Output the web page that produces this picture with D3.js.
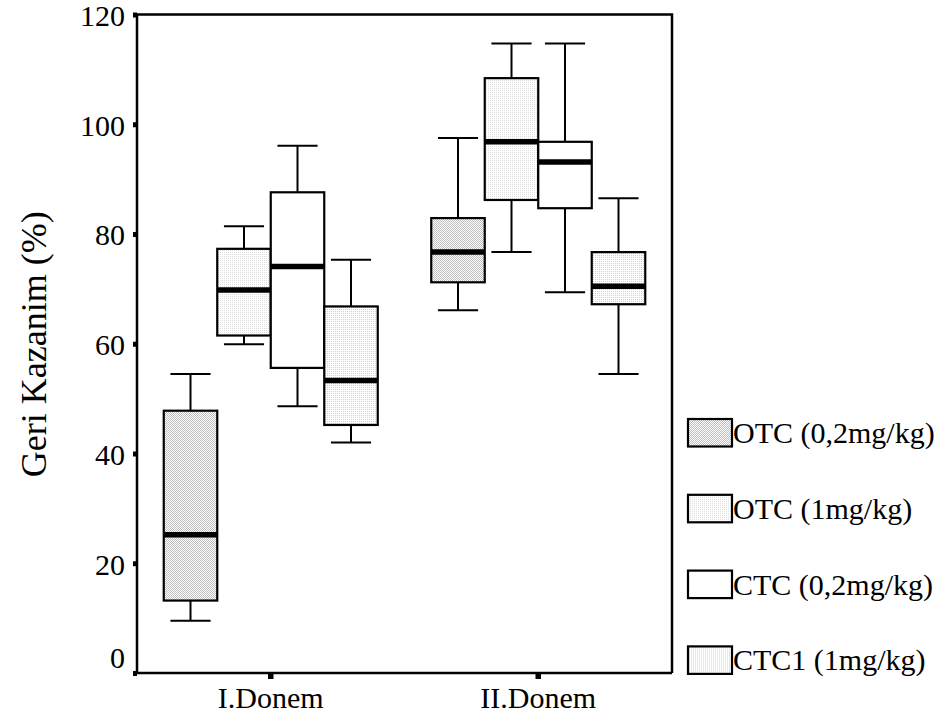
<!DOCTYPE html>
<html>
<head>
<meta charset="utf-8">
<script src="https://cdn.jsdelivr.net/npm/d3@7"></script>
<style>
  html, body { margin: 0; padding: 0; background: #fff; }
  svg { display: block; }
  text { font-family: "Liberation Serif", "Times New Roman", serif; fill: #000; }
</style>
</head>
<body>
<svg id="chart" width="946" height="719"></svg>
<script>
// Periods on the x axis
const categories = ["I.Donem", "II.Donem"];
// Treatment groups (one box per group in each period)
const seriesNames = ["OTC (0,2mg/kg)", "OTC (1mg/kg)", "CTC (0,2mg/kg)", "CTC1 (1mg/kg)"];
// Box statistics per period: [min, Q1, median, Q3, max]
const otc02 = [[9.5, 13.2, 25.2, 47.8, 54.5], [66.1, 71.2, 76.7, 82.9, 97.5]];
const otc1  = [[59.9, 61.5, 69.8, 77.3, 81.4], [76.7, 86.2, 96.8, 108.4, 114.7]];
const ctc02 = [[48.6, 55.6, 74.1, 87.6, 96.1], [69.4, 84.7, 93.1, 96.8, 114.7]];
const ctc1  = [[42.0, 45.2, 53.3, 66.8, 75.3], [54.5, 67.2, 70.5, 76.7, 86.5]];
const yTicks = [0, 20, 40, 60, 80, 100, 120];
const yTitle = "Geri Kazanim (%)";

const seriesValues = [otc02, otc1, ctc02, ctc1];
const fills = ["url(#pDark)", "url(#pLight)", "#ffffff", "url(#pDot)"];

const svg = d3.select("#chart");

// Dither fills for the shaded boxes
const defs = svg.append("defs");
function dither(id, cells, color) {
  const p = defs.append("pattern").attr("id", id)
    .attr("width", 2).attr("height", 2).attr("patternUnits", "userSpaceOnUse");
  p.append("rect").attr("width", 2).attr("height", 2).attr("fill", "#fff")
    .attr("shape-rendering", "crispEdges");
  cells.forEach(([cx, cy]) => p.append("rect").attr("x", cx).attr("y", cy)
    .attr("width", 1).attr("height", 1).attr("fill", color)
    .attr("shape-rendering", "crispEdges"));
}
dither("pDark", [[0, 0], [1, 1]], "#bdbdbd");
dither("pLight", [[0, 0]], "#dcdcdc");
dither("pDot", [[1, 1]], "#cfcfcf");

const plotL = 137, plotR = 672, plotT = 14.5, plotB = 673;

const y = d3.scaleLinear().domain([0, 120]).range([plotB, plotT]);
const x = d3.scaleBand().domain(categories).range([plotL, plotR]).padding(0);
const inner = d3.scaleBand().domain(seriesNames).range([0, x.bandwidth()])
  .paddingInner(0).paddingOuter(0.5);

// Plot frame (top and right edges)
svg.append("path")
  .attr("d", `M${plotL},${plotT}H${plotR}V${plotB}`)
  .attr("fill", "none").attr("stroke", "#000").attr("stroke-width", 2.5);

// Y axis
const yAxis = svg.append("g").attr("transform", `translate(${plotL},0)`)
  .call(d3.axisLeft(y).tickValues(yTicks).tickSize(4).tickPadding(8).tickFormat(d3.format("d")));
yAxis.select(".domain").attr("stroke", "#000").attr("stroke-width", 2.5)
  .attr("d", `M0,${plotB}V${plotT}`);
yAxis.selectAll(".tick line").attr("stroke", "#000").attr("stroke-width", 5);
yAxis.selectAll(".tick text").style("font-size", "30px").attr("dy", "0.36em");
yAxis.selectAll(".tick").filter(d => d === 0).select("text").attr("dy", "-0.18em");

// X axis
const xAxis = svg.append("g").attr("transform", `translate(0,${plotB})`)
  .call(d3.axisBottom(x).tickSize(6).tickPadding(0));
xAxis.select(".domain").attr("stroke", "#000").attr("stroke-width", 2.5)
  .attr("d", `M${plotL},0H${plotR}`);
xAxis.selectAll(".tick line").attr("stroke", "#000").attr("stroke-width", 5.5);
xAxis.selectAll(".tick text").style("font-size", "30px").attr("y", 35).attr("dy", 0);

// Y title
svg.append("text")
  .attr("transform", `translate(46,${(plotT + plotB) / 2 + 0.5}) rotate(-90)`)
  .attr("text-anchor", "middle")
  .style("font-size", "36px")
  .text(yTitle);

// Boxes
const boxW = inner.bandwidth();
const capW = boxW * 0.75;
seriesNames.forEach((name, si) => {
  categories.forEach((cat, ci) => {
    const [mn, q1, med, q3, mx] = seriesValues[si][ci];
    const x0 = x(cat) + inner(name);
    const cx = x0 + boxW / 2;
    const g = svg.append("g");
    // whiskers
    g.append("line").attr("x1", cx).attr("x2", cx).attr("y1", y(mx)).attr("y2", y(q3))
      .attr("stroke", "#000").attr("stroke-width", 2);
    g.append("line").attr("x1", cx).attr("x2", cx).attr("y1", y(q1)).attr("y2", y(mn))
      .attr("stroke", "#000").attr("stroke-width", 2);
    g.append("line").attr("x1", cx - capW / 2).attr("x2", cx + capW / 2)
      .attr("y1", y(mx)).attr("y2", y(mx)).attr("stroke", "#000").attr("stroke-width", 2);
    g.append("line").attr("x1", cx - capW / 2).attr("x2", cx + capW / 2)
      .attr("y1", y(mn)).attr("y2", y(mn)).attr("stroke", "#000").attr("stroke-width", 2);
    // box
    g.append("rect").attr("x", x0).attr("y", y(q3)).attr("width", boxW)
      .attr("height", y(q1) - y(q3)).attr("fill", fills[si])
      .attr("stroke", "#000").attr("stroke-width", 2.2);
    // median
    g.append("line").attr("x1", x0).attr("x2", x0 + boxW)
      .attr("y1", y(med)).attr("y2", y(med)).attr("stroke", "#000").attr("stroke-width", 5.5);
  });
});

// Legend
const legend = svg.append("g").attr("transform", "translate(688,419)");
seriesNames.forEach((name, i) => {
  const g = legend.append("g").attr("transform", `translate(0,${i * 75.8})`);
  g.append("rect").attr("width", 44).attr("height", 27.5)
    .attr("fill", fills[i]).attr("stroke", "#000").attr("stroke-width", 2.2);
  g.append("text").attr("x", 45).attr("y", 24).style("font-size", "30px").text(name);
});
</script>
</body>
</html>
